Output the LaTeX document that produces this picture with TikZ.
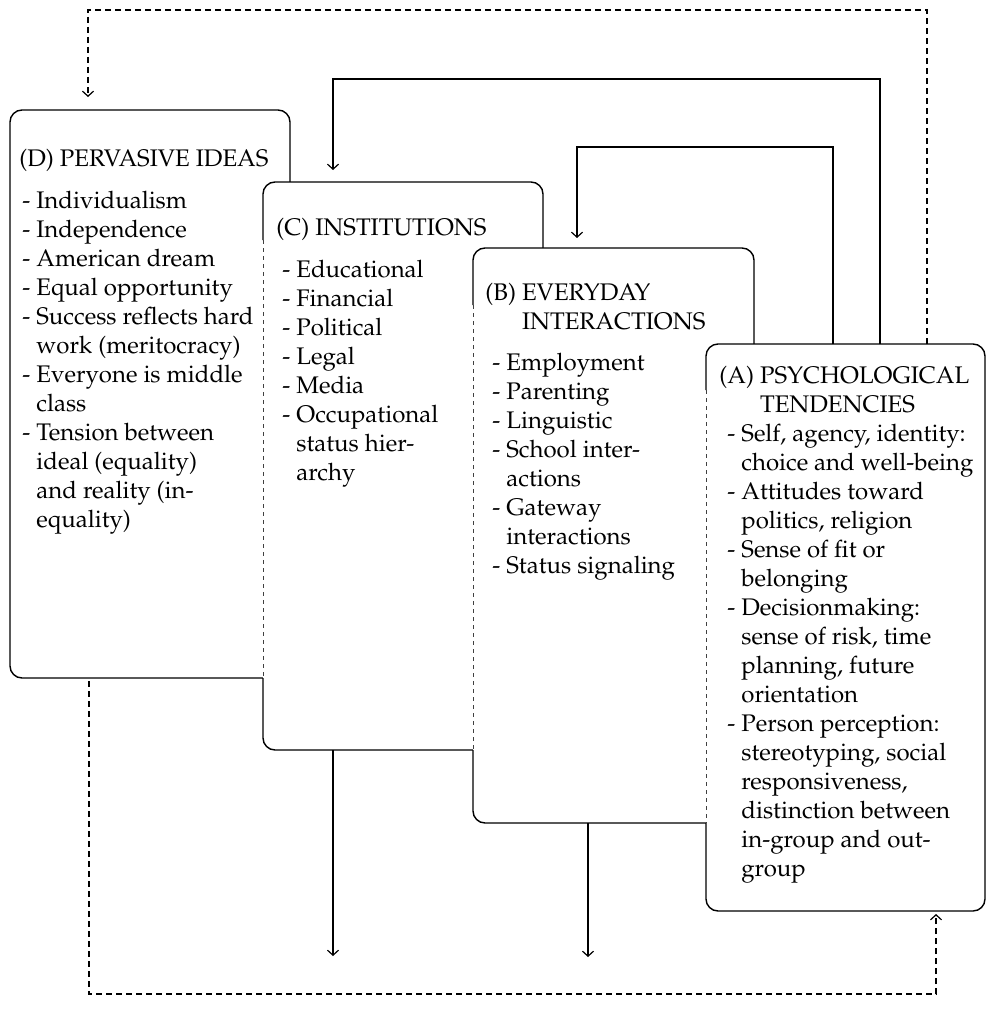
\documentclass[tikz,border=0pt]{standalone}
\usepackage[T1]{fontenc}
\usepackage{mathpazo}
\usetikzlibrary{arrows.meta,calc}
\newcommand{\hg}{\phantom{- }}
\begin{document}
\begin{tikzpicture}[x=0.5pt,y=-0.5pt,
  boxfill/.style={fill=white,draw=none,rounded corners=6pt,inner sep=0pt,outer sep=0pt,anchor=north west},
  edge/.style={line width=0.7pt,rounded corners=6pt},
  hid/.style={line width=0.4pt,dash pattern=on 2pt off 2pt,draw=black!75},
  txt/.style={font=\fontsize{12}{14.5}\selectfont,align=left,anchor=north west,inner sep=0pt},
  conn/.style={line width=0.6pt,-{Straight Barb[length=2.5pt,width=5.5pt]}},
  dconn/.style={conn,dash pattern=on 3pt off 2pt}]
\useasboundingbox (0,0) rectangle (986,1017);

% ---------- boxes ----------
\node[boxfill,minimum width=140pt,minimum height=284pt] (D) at (10,110) {};
\draw[edge] (D.north west) -- (D.north east) -- (D.south east) -- (D.south west) -- cycle;

\node[boxfill,minimum width=140pt,minimum height=284pt] (C) at (263,182) {};
\draw[edge] ($(C.north west)+(0,58)$) -- (C.north west) -- (C.north east) -- (C.south east) -- (C.south west) -- (C.west |- D.south);
\draw[hid] ($(C.north west)+(0,58)$) -- (C.west |- D.south);

\node[boxfill,minimum width=140.5pt,minimum height=287.5pt] (B) at (473,248) {};
\draw[edge] ($(B.north west)+(0,57)$) -- (B.north west) -- (B.north east) -- (B.south east) -- (B.south west) -- (B.west |- C.south);
\draw[hid] ($(B.north west)+(0,57)$) -- (B.west |- C.south);

\node[boxfill,minimum width=139.5pt,minimum height=283.5pt] (A) at (706,344) {};
\draw[edge] ($(A.north west)+(0,46)$) -- (A.north west) -- (A.north east) -- (A.south east) -- (A.south west) -- (A.west |- B.south);
\draw[hid] ($(A.north west)+(0,46)$) -- (A.west |- B.south);

% ---------- texts ----------
\node[txt] (Dt) at (19,145.7) {\strut(D) PERVASIVE IDEAS};
\node[txt] (Dl) at (22,187.7) {\strut- Individualism\\
- Independence\\
- American dream\\
- Equal opportunity\\
- Success reflects hard\\
\hg work (meritocracy)\\
- Everyone is middle\\
\hg class\\
- Tension between\\
\hg ideal (equality)\\
\hg and reality (in-\\
\hg equality)};

\node[txt] (Ct) at (276,214.7) {\strut(C) INSTITUTIONS};
\node[txt] (Cl) at (282,256.7) {\strut- Educational\\
- Financial\\
- Political\\
- Legal\\
- Media\\
- Occupational\\
\hg status hier-\\
\hg archy};

\node[txt] (Bt) at (485,279.7) {\strut(B) EVERYDAY\\
\phantom{(B) }INTERACTIONS};
\node[txt] (Bl) at (492,349.7) {\strut- Employment\\
- Parenting\\
- Linguistic\\
- School inter-\\
\hg actions\\
- Gateway\\
\hg interactions\\
- Status signaling};

\node[txt] (At) at (719,362.7) {\strut(A) PSYCHOLOGICAL\\
\phantom{(A) }TENDENCIES};
\node[txt] (Al) at (727,420.7) {\strut- Self, agency, identity:\\
\hg choice and well-being\\
- Attitudes toward\\
\hg politics, religion\\
- Sense of fit or\\
\hg belonging\\
- Decisionmaking:\\
\hg sense of risk, time\\
\hg planning, future\\
\hg orientation\\
- Person perception:\\
\hg stereotyping, social\\
\hg responsiveness,\\
\hg distinction between\\
\hg in-group and out-\\
\hg group};

% ---------- connectors ----------
\coordinate (k1) at (833,147);
\coordinate (k2) at (880,79);
\coordinate (k3) at (927,10);
\coordinate (k4) at (89,994);
\coordinate (e1) at (333,956);
\coordinate (e2) at (588,957);

\draw[conn] (A.north -| k1) -- (k1) -| ($(B.north west)+(104,-10)$);
\draw[conn] (A.north -| k2) -- (k2) -| ($(C.north west)+(70,-12)$);
\draw[dconn] (A.north -| k3) -- (k3) -| ($(D.north west)+(78,-13)$);
\draw[dconn] ($(D.south west)+(79,3)$) -- (k4) -| ($(A.south west)+(230,3)$);
\draw[conn] (C.south -| e1) -- (e1);
\draw[conn] (B.south -| e2) -- (e2);
\end{tikzpicture}
\end{document}
